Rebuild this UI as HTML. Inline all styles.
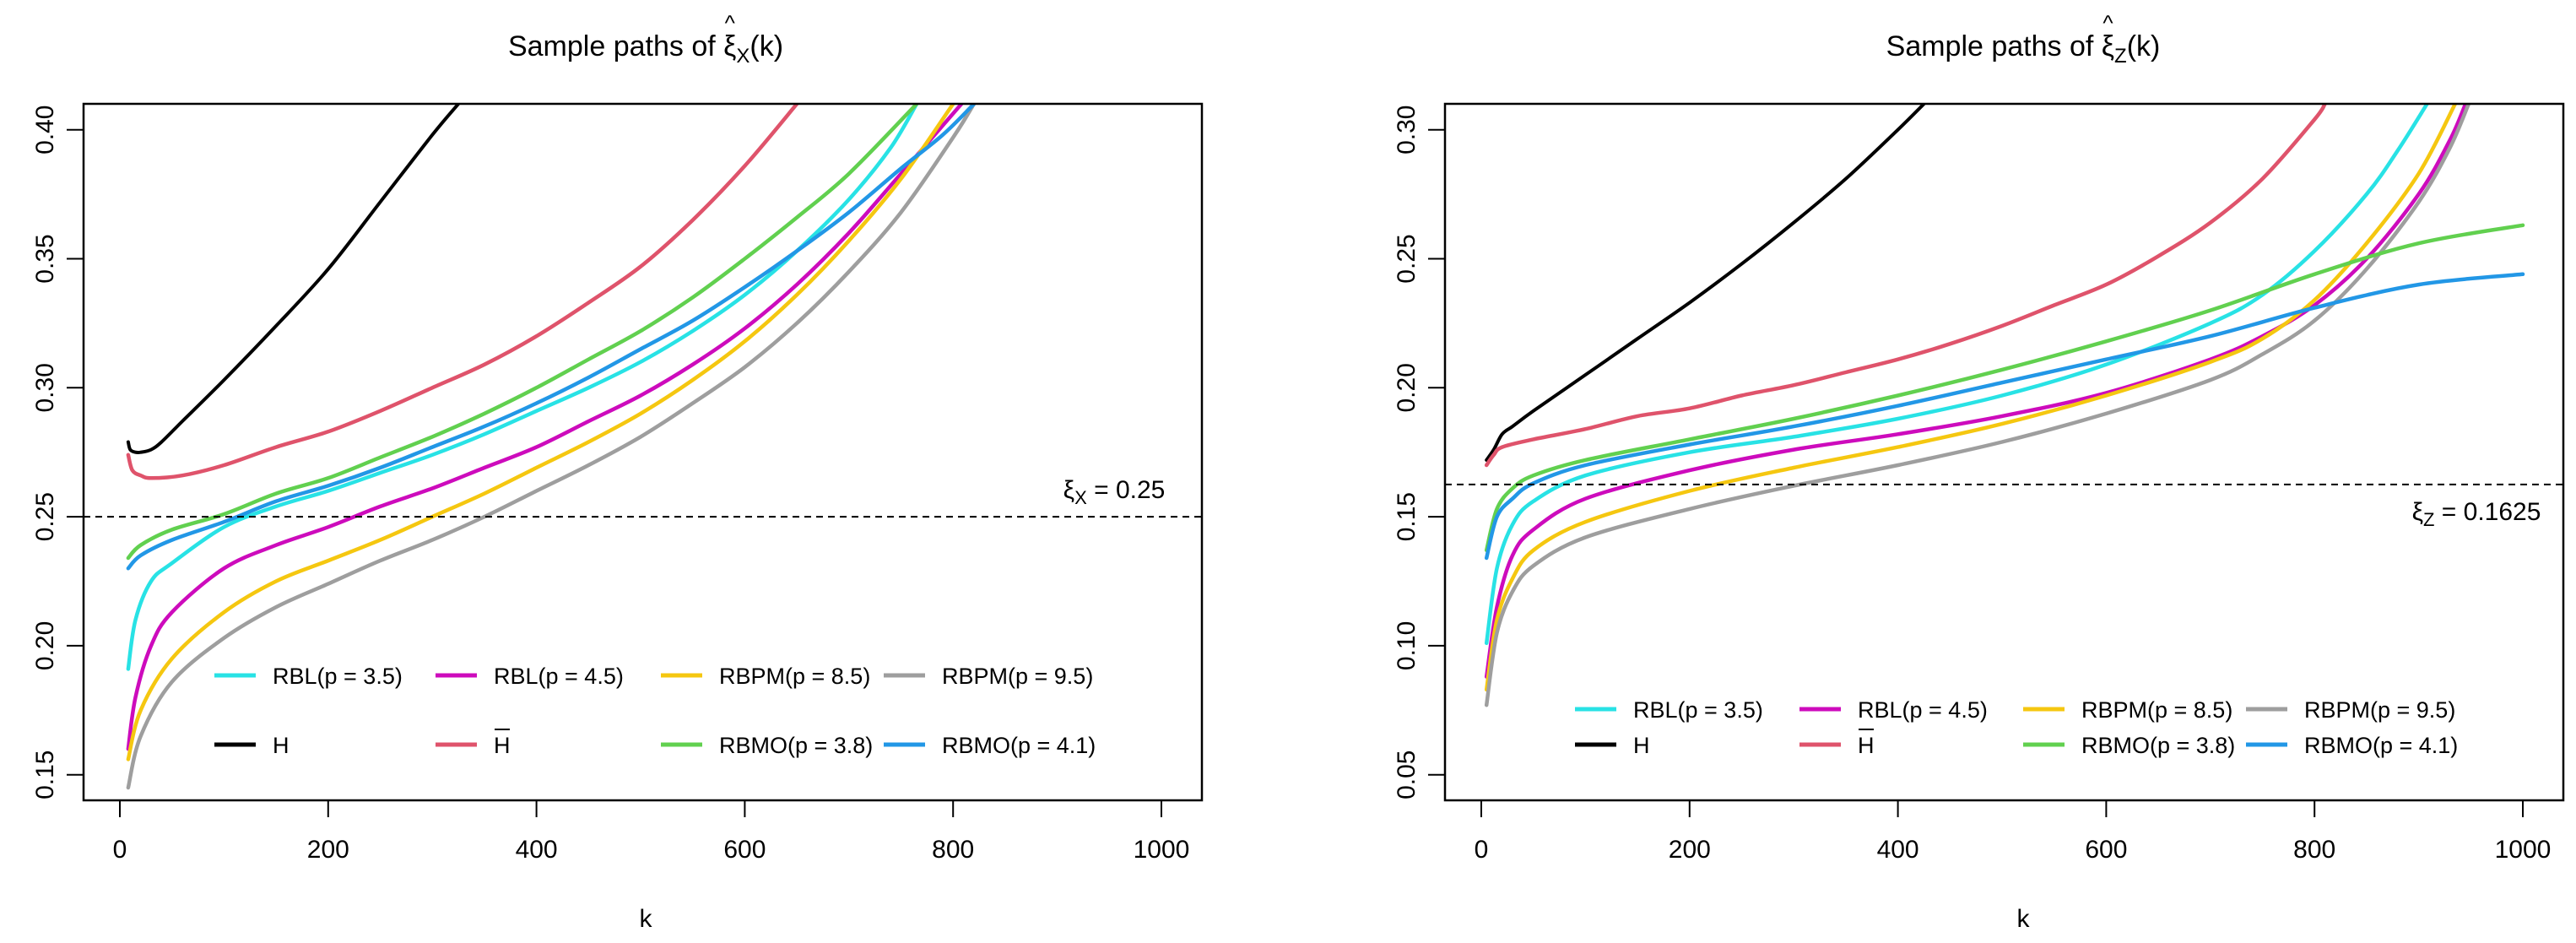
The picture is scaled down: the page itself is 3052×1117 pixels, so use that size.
<!DOCTYPE html>
<html><head><meta charset="utf-8"><style>
html,body{margin:0;padding:0;background:#fff;}
svg{display:block;font-family:"Liberation Sans",Arial,sans-serif;}
</style></head><body>
<svg id="fig" width="3052" height="1117" viewBox="0 0 3052 1117" xmlns="http://www.w3.org/2000/svg"></svg>
<script>
// ---- data: left panel (xi_X) ----
const leftTicksY = [0.15, 0.20, 0.25, 0.30, 0.35, 0.40];
const rightTicksY = [0.05, 0.10, 0.15, 0.20, 0.25, 0.30];
const ticksX = [0, 200, 400, 600, 800, 1000];
const seriesNames = ["RBL(p = 3.5)","RBL(p = 4.5)","RBPM(p = 8.5)","RBPM(p = 9.5)","H","H","RBMO(p = 3.8)","RBMO(p = 4.1)"];
const seriesColors = ["#28E2E5","#CD0BBC","#F5C710","#9E9E9E","#000000","#DF536B","#61D04F","#2297E6"];
const leftRefValue = 0.25;
const rightRefValue = 0.1625;

const L_cyan_k = [8,15,30,50,100,150,200,250,300,350,400,450,500,550,600,650,700,740,765];
const L_cyan_v = [0.191,0.210,0.225,0.232,0.246,0.254,0.260,0.267,0.274,0.282,0.291,0.300,0.310,0.322,0.336,0.353,0.373,0.393,0.41];
const L_mag_k = [8,15,30,50,100,150,200,250,300,350,400,450,500,550,600,650,700,750,808];
const L_mag_v = [0.160,0.180,0.200,0.213,0.230,0.239,0.246,0.254,0.261,0.269,0.277,0.287,0.297,0.309,0.323,0.340,0.360,0.383,0.41];
const L_yel_k = [8,20,50,100,150,200,250,300,350,400,450,500,550,600,650,700,750,800];
const L_yel_v = [0.156,0.175,0.195,0.213,0.225,0.233,0.241,0.250,0.259,0.269,0.279,0.290,0.303,0.318,0.336,0.357,0.381,0.41];
const L_gray_k = [8,20,50,100,150,200,250,300,350,400,450,500,550,600,650,700,750,800,820];
const L_gray_v = [0.145,0.165,0.186,0.203,0.215,0.224,0.233,0.241,0.250,0.260,0.270,0.281,0.294,0.308,0.325,0.345,0.368,0.397,0.41];
const L_H_k = [8,10,15,20,30,40,60,100,150,200,250,300,325];
const L_H_v = [0.279,0.276,0.275,0.275,0.276,0.279,0.287,0.303,0.324,0.346,0.372,0.398,0.41];
const L_Hb_k = [8,12,20,30,60,100,150,200,250,300,350,400,450,500,550,600,650];
const L_Hb_v = [0.274,0.268,0.266,0.265,0.266,0.270,0.277,0.283,0.291,0.300,0.309,0.320,0.333,0.347,0.365,0.386,0.41];
const L_grn_k = [8,20,50,100,150,200,250,300,350,400,450,500,550,600,650,700,765];
const L_grn_v = [0.234,0.239,0.245,0.251,0.259,0.265,0.273,0.281,0.290,0.300,0.311,0.322,0.335,0.350,0.366,0.383,0.41];
const L_blu_k = [8,20,50,100,150,200,250,300,350,400,450,500,550,600,650,700,750,790,820];
const L_blu_v = [0.230,0.235,0.241,0.248,0.256,0.262,0.269,0.277,0.285,0.294,0.304,0.315,0.326,0.339,0.353,0.368,0.385,0.398,0.41];

// ---- data: right panel (xi_Z) ----
const R_cyan_k = [5,15,30,50,100,200,300,400,500,600,700,750,800,850,880,908];
const R_cyan_v = [0.101,0.130,0.147,0.156,0.166,0.175,0.181,0.188,0.197,0.209,0.225,0.236,0.253,0.275,0.292,0.31];
const R_mag_k = [5,15,30,50,100,200,300,400,500,600,700,750,800,850,900,930,945];
const R_mag_v = [0.088,0.115,0.135,0.145,0.157,0.168,0.176,0.182,0.189,0.198,0.211,0.220,0.232,0.250,0.275,0.296,0.31];
const R_yel_k = [5,15,30,50,100,200,300,400,500,600,700,750,800,850,900,935];
const R_yel_v = [0.083,0.110,0.126,0.137,0.148,0.160,0.169,0.177,0.186,0.197,0.210,0.219,0.234,0.256,0.283,0.31];
const R_gray_k = [5,15,30,50,100,200,300,400,500,600,700,750,800,850,900,930,948];
const R_gray_v = [0.077,0.105,0.121,0.131,0.142,0.153,0.162,0.170,0.179,0.190,0.203,0.213,0.226,0.246,0.272,0.293,0.31];
const R_H_k = [5,12,20,30,50,100,150,200,250,300,350,400,425];
const R_H_v = [0.172,0.176,0.182,0.185,0.191,0.205,0.219,0.233,0.248,0.264,0.281,0.300,0.31];
const R_Hb_k = [5,12,20,50,100,150,200,250,300,350,400,450,500,550,600,650,700,750,800,810];
const R_Hb_v = [0.170,0.174,0.177,0.180,0.184,0.189,0.192,0.197,0.201,0.206,0.211,0.217,0.224,0.232,0.240,0.251,0.264,0.281,0.304,0.31];
const R_grn_k = [5,15,30,50,100,200,300,400,500,600,700,800,900,1000];
const R_grn_v = [0.137,0.153,0.161,0.166,0.172,0.180,0.188,0.197,0.207,0.218,0.230,0.244,0.256,0.263];
const R_blu_k = [5,15,30,50,100,200,300,400,500,600,700,800,900,1000];
const R_blu_v = [0.134,0.150,0.157,0.163,0.170,0.178,0.185,0.193,0.202,0.211,0.220,0.231,0.240,0.244];

const leftSeries = [[L_cyan_k,L_cyan_v],[L_mag_k,L_mag_v],[L_yel_k,L_yel_v],[L_gray_k,L_gray_v],[L_H_k,L_H_v],[L_Hb_k,L_Hb_v],[L_grn_k,L_grn_v],[L_blu_k,L_blu_v]];
const rightSeries = [[R_cyan_k,R_cyan_v],[R_mag_k,R_mag_v],[R_yel_k,R_yel_v],[R_gray_k,R_gray_v],[R_H_k,R_H_v],[R_Hb_k,R_Hb_v],[R_grn_k,R_grn_v],[R_blu_k,R_blu_v]];
const seriesIds = ["rbl-3-5","rbl-4-5","rbpm-8-5","rbpm-9-5","h","h-bar","rbmo-3-8","rbmo-4-1"];
const drawOrder = [4,5,0,1,2,3,6,7];

const NS = "http://www.w3.org/2000/svg";
const fig = document.getElementById("fig");
function mk(tag, attrs, parent){
  const e = document.createElementNS(NS, tag);
  for (const k in attrs) e.setAttribute(k, attrs[k]);
  (parent||fig).appendChild(e);
  return e;
}
function smoothPath(pts){
  let d = "M" + pts[0][0].toFixed(1) + "," + pts[0][1].toFixed(1);
  for (let i = 0; i < pts.length - 1; i++) {
    const p0 = pts[Math.max(0, i-1)], p1 = pts[i], p2 = pts[i+1], p3 = pts[Math.min(pts.length-1, i+2)];
    const c1x = p1[0] + (p2[0]-p0[0])/6, c1y = p1[1] + (p2[1]-p0[1])/6;
    const c2x = p2[0] - (p3[0]-p1[0])/6, c2y = p2[1] - (p3[1]-p1[1])/6;
    d += "C" + c1x.toFixed(1) + "," + c1y.toFixed(1) + " " + c2x.toFixed(1) + "," + c2y.toFixed(1) + " " + p2[0].toFixed(1) + "," + p2[1].toFixed(1);
  }
  return d;
}

function panel(cfg){
  const g = mk("g", {});
  
  
  const x0 = cfg.boxL, x1 = cfg.boxL + 1325, yT = 123, yB = 948;
  const sx = k => cfg.xZero + k * 1.234;
  const sy = v => 153.7 + (cfg.yTop - v) / 0.05 * 152.8;
  const clipId = cfg.name + "-clip";
  const cp = mk("clipPath", {id: clipId}, g);
  mk("rect", {x: x0, y: yT, width: x1 - x0, height: yB - yT}, cp);

  // title
  const t = mk("text", {x: cfg.titleX, y: 66, "font-size": 34, "text-anchor": "middle", fill: "#000"}, g);
  
  
  t.appendChild(document.createTextNode("Sample paths of "));
  const ts1 = mk("tspan", {}, t); ts1.textContent = "\u03BE";
  const ts2 = mk("tspan", {dy: 8, "font-size": 24}, t); ts2.textContent = cfg.sub;
  const ts3 = mk("tspan", {dy: -8}, t); ts3.textContent = "(k)";
  let hx = cfg.titleX + 40;
  try {
    const ext = t.getExtentOfChar(16);
    hx = ext.x + ext.width / 2;
  } catch(e) {}
  const hat = mk("text", {x: hx, y: 36, "font-size": 26, "text-anchor": "middle"}, g);
  
  
  hat.textContent = "^";

  // y ticks
  cfg.ticksY.forEach(v => {
    const y = sy(v);
    const tk = mk("line", {x1: x0 - 20, y1: y, x2: x0, y2: y, stroke: "#000", "stroke-width": 2}, g);
    
    
    const lb = mk("text", {x: x0 - 44, y: y, "font-size": 30, "text-anchor": "middle", transform: `rotate(-90 ${x0-44} ${y})`, "dominant-baseline": "middle"}, g);
    
    
    lb.textContent = v.toFixed(2);
  });
  // x ticks
  ticksX.forEach(k => {
    const x = sx(k);
    const tk = mk("line", {x1: x, y1: yB, x2: x, y2: yB + 20, stroke: "#000", "stroke-width": 2}, g);
    
    
    const lb = mk("text", {x: x, y: 1016, "font-size": 30, "text-anchor": "middle"}, g);
    
    
    lb.textContent = String(k);
  });
  const xl = mk("text", {x: cfg.titleX, y: 1098, "font-size": 30, "text-anchor": "middle"}, g);
  
  
  xl.textContent = "k";

  // series
  const sg = mk("g", {"clip-path": `url(#${clipId})`}, g);
  drawOrder.forEach(i => {
    const [ks, vs] = cfg.series[i];
    const pts = ks.map((k, j) => [sx(k), sy(vs[j])]);
    const p = mk("path", {d: smoothPath(pts), fill: "none", stroke: seriesColors[i], "stroke-width": i === 4 ? 4 : 4.5, "stroke-linejoin": "round", "stroke-linecap": "round"}, sg);
    
    
  });
  // reference line
  const ry = sy(cfg.refV);
  const rl = mk("line", {x1: x0, y1: ry, x2: x1, y2: ry, stroke: "#000", "stroke-width": 2, "stroke-dasharray": "8 6"}, g);
  
  
  const rt = mk("text", {x: cfg.refX, y: cfg.refY, "font-size": 30, "text-anchor": "middle"}, g);
  
  
  const r1 = mk("tspan", {}, rt); r1.textContent = "\u03BE";
  const r2 = mk("tspan", {dy: 7, "font-size": 22}, rt); r2.textContent = cfg.sub;
  const r3 = mk("tspan", {dy: -7}, rt); r3.textContent = " = " + cfg.refLabel;

  // box
  const bx = mk("rect", {x: x0, y: yT, width: x1 - x0, height: yB - yT, fill: "none", stroke: "#000", "stroke-width": 2.5}, g);
  
  

  // legend
  const lg = mk("g", {}, g);
  
  
  for (let i = 0; i < 8; i++) {
    const col = i % 4, row = Math.floor(i / 4);
    const lx = cfg.legX[col], ly = cfg.legY[row];
    const e = mk("g", {}, lg);
    
    
    mk("line", {x1: lx, y1: ly, x2: lx + 49, y2: ly, stroke: seriesColors[i], "stroke-width": 5}, e);
    const tx = mk("text", {x: lx + 69, y: ly + 10, "font-size": 27}, e);
    tx.textContent = seriesNames[i];
    if (i === 5) {
      mk("line", {x1: lx + 70, y1: ly - 18, x2: lx + 88, y2: ly - 18, stroke: "#000", "stroke-width": 2}, e);
    }
  }
}

panel({name: "left-panel", boxL: 99, xZero: 142, yTop: 0.40, ticksY: leftTicksY, series: leftSeries,
  titleX: 765, sub: "X", refV: leftRefValue, refLabel: "0.25", refX: 1320, refY: 590,
  legX: [254, 516, 783, 1047], legY: [800, 882]});
panel({name: "right-panel", boxL: 1712, xZero: 1755, yTop: 0.30, ticksY: rightTicksY, series: rightSeries,
  titleX: 2397, sub: "Z", refV: rightRefValue, refLabel: "0.1625", refX: 2934, refY: 616,
  legX: [1866, 2132, 2397, 2661], legY: [840, 882]});
</script>
</body></html>
